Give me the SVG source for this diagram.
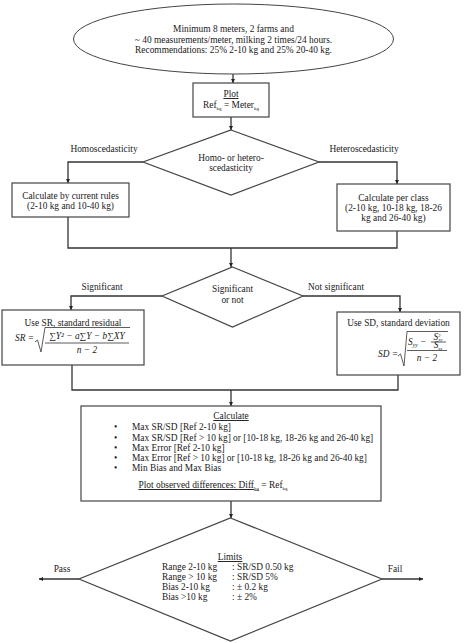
<svg xmlns="http://www.w3.org/2000/svg" width="464" height="643" viewBox="0 0 464 643">
<style>
text{font-family:"Liberation Serif","DejaVu Serif",serif;font-size:9.4px;fill:#1a1a1a}
.c{text-anchor:middle}
.m{font-style:italic}
.sh{fill:#fff;stroke:#444;stroke-width:1.2}
.ln{fill:none;stroke:#333;stroke-width:1.3}
.th{fill:none;stroke:#333;stroke-width:0.8}
.u{text-decoration:underline}
</style>
<defs>
<marker id="ah" viewBox="0 0 10 10" refX="10" refY="5" markerWidth="4" markerHeight="4" orient="auto" markerUnits="userSpaceOnUse">
<path d="M0,0 L10,5 L0,10 z" fill="#222"/>
</marker>
</defs>
<g id="connectors">
<path class="ln" d="M233,74 V83" marker-end="url(#ah)"/>
<path class="ln" d="M231,117 V130" marker-end="url(#ah)"/>
<path class="ln" d="M143,162 H68 V183" marker-end="url(#ah)"/>
<path class="ln" d="M319,162 H397 V184" marker-end="url(#ah)"/>
<path class="ln" d="M68,217 V248 H397 V231"/>
<path class="ln" d="M231,248 V267" marker-end="url(#ah)"/>
<path class="ln" d="M162,296 H71 V310" marker-end="url(#ah)"/>
<path class="ln" d="M303,296 H400 V312" marker-end="url(#ah)"/>
<path class="ln" d="M72,365 V390 H398 V375"/>
<path class="ln" d="M231,390 V406" marker-end="url(#ah)"/>
<path class="ln" d="M231,501 V518" marker-end="url(#ah)"/>
<path class="ln" d="M79,579 H39" marker-end="url(#ah)"/>
<path class="ln" d="M382,579 H423" marker-end="url(#ah)"/>
<text class="c" x="104" y="152">Homoscedasticity</text>
<text class="c" x="364" y="152">Heteroscedasticity</text>
<text class="c" x="102" y="290">Significant</text>
<text class="c" x="336" y="290">Not significant</text>
<text class="c" x="62" y="572">Pass</text>
<text class="c" x="395" y="572">Fail</text>
</g>
<g id="start">
<ellipse class="sh" cx="233.5" cy="39" rx="160" ry="35" style="stroke-width:1"/>
<text class="c" x="233.5" y="32">Minimum 8 meters, 2 farms and</text>
<text class="c" x="233.5" y="42.5">~ 40 measurements/meter, milking 2 times/24 hours.</text>
<text class="c" x="233.5" y="53">Recommendations: 25% 2-10 kg and 25% 20-40 kg.</text>
</g>
<g id="plot">
<rect class="sh" x="193" y="83" width="76" height="34"/>
<text class="c u" x="231" y="97">Plot</text>
<text class="c" x="231" y="108">Ref<tspan font-size="5" dy="1.5">kg</tspan><tspan dy="-1.5"> = Meter</tspan><tspan font-size="5" dy="1.5">kg</tspan></text>
</g>
<g id="scedasticity">
<polygon class="sh" points="231,130 319,162 231,195 143,162"/>
<text class="c" x="231" y="161">Homo- or hetero-</text>
<text class="c" x="231" y="171">scedasticity</text>
</g>
<g id="current-rules">
<rect class="sh" x="12" y="183" width="117" height="34"/>
<text class="c" x="70.5" y="199">Calculate by current rules</text>
<text class="c" x="70.5" y="209">(2-10 kg and 10-40 kg)</text>
</g>
<g id="per-class">
<rect class="sh" x="337" y="184" width="113" height="47"/>
<text class="c" x="393.5" y="201">Calculate per class</text>
<text class="c" x="393.5" y="210.5">(2-10 kg, 10-18 kg, 18-26</text>
<text class="c" x="393.5" y="221">kg and 26-40 kg)</text>
</g>
<g id="significant">
<polygon class="sh" points="232.5,267 303,296 232.5,327 162,296"/>
<text class="c" x="232.5" y="292">Significant</text>
<text class="c" x="232.5" y="303">or not</text>
</g>
<g id="sr">
<rect class="sh" x="2" y="310" width="142" height="55"/>
<text class="c" x="73" y="326">Use SR, standard residual</text>
<text class="m" x="15" y="341">SR =</text>
<path class="th" d="M35,342 L37.5,340 L41,352 L45,327.5 H130"/>
<text class="m" x="87" y="339" text-anchor="middle" font-size="8.5">∑Y² − a∑Y − b∑XY</text>
<line class="th" x1="45" y1="343" x2="129" y2="343"/>
<text class="m c" x="87" y="353" font-size="8.5">n − 2</text>
</g>
<g id="sd">
<rect class="sh" x="337" y="312" width="123" height="63"/>
<text class="c" x="398.5" y="326">Use SD, standard deviation</text>
<text class="m" x="378" y="357">SD =</text>
<path class="th" d="M398,356 L400.5,354 L404,366 L407,331.5 H448"/>
<text class="m" x="408" y="345" font-size="8.5">S<tspan font-size="5.5" dy="1.5">yy</tspan><tspan dy="-1.5"> − </tspan></text>
<text class="m c" x="438" y="339.5" font-size="7">S<tspan font-size="4.5" dy="-3">2</tspan><tspan font-size="4.5" dx="-2" dy="4.5">xy</tspan></text>
<line class="th" x1="431" y1="342" x2="446" y2="342"/>
<text class="m c" x="438" y="348" font-size="7">S<tspan font-size="4.5" dy="1.5">xx</tspan></text>
<line class="th" x1="407" y1="350.5" x2="447" y2="350.5"/>
<text class="m c" x="427" y="361" font-size="8.5">n − 2</text>
</g>
<g id="calculate">
<rect class="sh" x="81" y="406" width="300" height="95"/>
<text class="c u" x="231" y="419">Calculate</text>
<text x="114" y="430">•</text><text x="132" y="430">Max SR/SD [Ref 2-10 kg]</text>
<text x="114" y="441">•</text><text x="132" y="441">Max SR/SD [Ref &gt; 10 kg] or [10-18 kg, 18-26 kg and 26-40 kg]</text>
<text x="114" y="451">•</text><text x="132" y="451">Max Error [Ref 2-10 kg]</text>
<text x="114" y="461">•</text><text x="132" y="461">Max Error [Ref &gt; 10 kg] or [10-18 kg, 18-26 kg and 26-40 kg]</text>
<text x="114" y="471">•</text><text x="132" y="471">Min Bias and Max Bias</text>
<text class="c" x="213" y="488"><tspan class="u">Plot observed differences: </tspan><tspan class="u">Diff</tspan><tspan font-size="5" dy="1.5" class="u">kg</tspan><tspan dy="-1.5"> = Ref</tspan><tspan font-size="5" dy="1.5">kg</tspan></text>
</g>
<g id="limits">
<polygon class="sh" points="230.5,518 382,579 230.5,641 79,579"/>
<text class="c u" x="230" y="560">Limits</text>
<text x="162" y="570">Range 2-10 kg</text><text x="232" y="570">: SR/SD 0.50 kg</text>
<text x="162" y="580">Range &gt; 10 kg</text><text x="232" y="580">: SR/SD 5%</text>
<text x="162" y="590">Bias 2-10 kg</text><text x="232" y="590">: ± 0.2 kg</text>
<text x="162" y="600">Bias &gt;10 kg</text><text x="232" y="600">: ± 2%</text>
</g>
</svg>
